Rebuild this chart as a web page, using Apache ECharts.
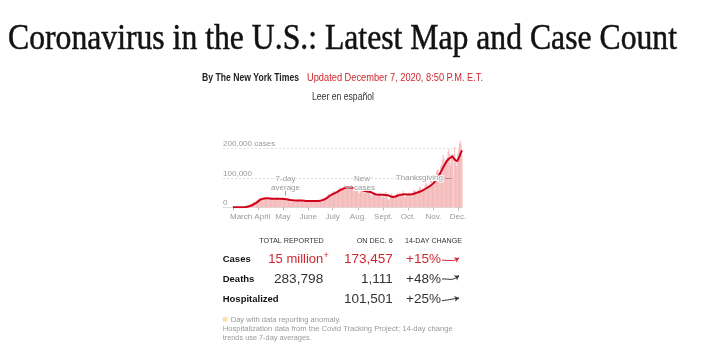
<!DOCTYPE html>
<html><head><meta charset="utf-8">
<script src="https://cdn.jsdelivr.net/npm/echarts@6/dist/echarts.min.js"></script>
<style>html,body{margin:0;padding:0;background:#fff}#c{width:709px;height:356px}</style>
</head><body><div id="c"></div>
<script>
// ---- DATA ----
const monthLabels = ['March','April','May','June','July','Aug.','Sept.','Oct.','Nov.','Dec.'];
const monthDays = [0,31,61,92,122,153,184,214,245,275]; // day index from Mar 1
const yTicks = [0,100,200];                // thousands of cases
const yTickLabels = ['0','100,000','200,000 cases'];

// daily new cases, thousands
const casesMar = [0.01,0.02,0.02,0.03,0.05,0.08,0.1,0.13,0.19,0.29,0.39,0.47,0.6,0.68,0.85,1.0,1.5,2.6,4.3,5.6,6.5,8.5,10.7,10.6,13.3,17.8,18.6,19.6,19.2,20.7,25.4];
const casesApr = [27.0,29.7,32.1,33.3,26.3,30.0,31.4,31.7,34.6,34.2,29.8,27.5,25.6,26.6,29.2,30.1,31.9,30.1,27.2,27.8,25.8,29.5,31.7,35.1,33.1,27.1,23.8,24.8,28.3,29.8];
const casesMay = [34.0,28.9,25.0,22.7,24.0,24.4,28.1,27.3,25.5,20.3,18.9,21.6,21.4,27.4,25.5,24.4,19.5,22.1,21.5,21.7,27.2,24.2,22.7,19.3,19.6,17.7,20.2,22.5,24.0,24.4,20.4];
const casesJun = [20.4,21.6,19.9,21.8,25.1,23.1,18.4,17.6,18.5,20.9,22.3,24.1,25.6,19.4,19.8,23.5,25.7,27.9,32.2,31.8,26.8,30.4,34.7,37.9,39.8,45.3,43.6,41.4,39.8,47.5];
const casesJul = [51.6,54.3,55.6,44.6,46.6,47.1,56.9,62.9,60.4,68.6,62.8,59.6,59.5,66.9,68.3,76.5,71.8,64.5,62.9,59.2,63.7,69.4,70.3,75.5,66.5,57.0,56.9,63.8,68.2,67.9,68.6];
const casesAug = [57.6,47.6,46.7,54.2,55.1,58.6,62.2,54.7,47.4,48.1,52.7,52.2,51.0,64.0,53.8,42.3,36.9,43.8,47.0,45.4,48.1,44.3,35.2,37.4,38.8,43.3,46.1,47.0,44.0,34.5,33.0];
const casesSep = [41.4,31.5,44.1,51.7,41.8,31.4,24.2,26.1,33.8,35.8,47.6,40.8,34.3,35.3,38.2,39.4,45.1,49.9,42.3,36.5,52.0,38.8,39.1,44.7,55.0,44.8,35.1,32.8,42.0,40.3];
const casesOct = [44.5,49.5,49.3,35.7,38.7,43.8,50.5,57.4,57.7,54.9,46.7,41.8,51.9,58.8,64.7,70.5,55.8,48.7,65.6,60.6,62.7,76.7,84.3,79.9,61.2,66.3,74.6,79.3,91.9,99.3,84.8];
const casesNov = [74.1,84.5,92.0,103.9,121.3,127.1,126.7,106.3,119.1,138.8,143.4,161.5,177.2,166.5,137.4,160.2,160.6,169.9,187.8,196.1,179.2,142.4,175.9,172.5,181.2,111.0,204.5,152.6,138.9,157.9];
const casesDec = [181.4,198.9,216.0,226.6,212.0,173.5];
const anomalyDays = [270]; // Thanksgiving

// 7-day average, thousands
const avgDays   = [0,7,14,21,28,35,42,49,56,63,70,77,84,91,98,105,112,119,126,133,140,147,154,161,168,175,182,189,196,203,210,217,224,231,238,245,252,259,263,266,268,270,272,274,276,278,280];
const avgValues = [0,0.07,0.5,4.5,14.5,27.5,31.0,28.7,29.0,28.5,25.0,22.7,22.7,21.0,21.4,21.7,26.7,40.0,50.0,60.5,67.0,66.0,63.0,54.7,51.8,43.5,42.5,40.6,35.0,41.0,44.0,43.5,48.7,55.7,67.0,81.0,109.0,145.0,162.0,168.0,173.0,166.0,160.0,157.0,167.0,180.0,193.0];

// table
const rowLabels = ['Cases','Deaths','Hospitalized'];
const totals    = ['15 million','283,798',''];
const onDec6    = ['173,457','1,111','101,501'];
const changes   = ['+15%','+48%','+25%'];
const sparkCases  = [167,167,166,166,165,165,164,163,163,164,168,176,184,192];
const sparkDeaths = [1.10,1.12,1.14,1.13,1.10,1.08,1.07,1.06,1.08,1.13,1.22,1.35,1.50,1.63];
const sparkHosp   = [80.9,82.4,83.9,85.3,86.6,88.0,89.7,91.3,93.0,94.6,96.3,97.9,99.6,101.5];

// ---- BUILD ----
const dailyCases = [].concat(casesMar,casesApr,casesMay,casesJun,casesJul,casesAug,casesSep,casesOct,casesNov,casesDec);
const RED = '#d0262d', SANS = '"Liberation Sans", Arial, sans-serif';
const ctx = document.createElement('canvas').getContext('2d');
function fitScale(text, weight, size, family, target){
  ctx.font = weight + ' ' + size + 'px ' + family;
  return target / ctx.measureText(text).width;
}
function T(x, y, text, o){
  o = o || {};
  const fam = o.family || SANS, size = o.size || 10, weight = o.weight || 'normal';
  const el = {type:'text', x:x, y:y, silent:true,
    style:{text:text, fontFamily:fam, fontSize:size, fontWeight:weight, fill:o.color||'#333',
           align:o.align||'left', verticalAlign:'middle'}};
  if (o.stroke) { el.style.stroke = o.color; el.style.lineWidth = o.stroke; }
  if (o.width) el.scaleX = fitScale(text, weight, size, fam, o.width);
  return el;
}
const graphics = [
  T(8, 39.5, 'Coronavirus in the U.S.: Latest Map and Case Count', {family:'"Liberation Serif", serif', size:35, color:'#121212', width:669, stroke:0.5}),
  T(202, 78, 'By The New York Times', {size:10, weight:'bold', color:'#222', width:97}),
  T(307, 78, 'Updated December 7, 2020, 8:50 P.M. E.T.', {size:10, color:RED, width:176}),
  T(312, 97.3, 'Leer en español', {size:10, color:'#333', width:62}),
  T(291.5, 241, 'TOTAL REPORTED', {size:7.2, align:'center', color:'#333'}),
  T(392.7, 241, 'ON DEC. 6', {size:7.2, align:'right', color:'#333'}),
  T(405, 241, '14-DAY CHANGE', {size:7.2, color:'#333', width:57}),
  {type:'rect', silent:true, shape:{x:222.7, y:317, width:4.6, height:4.6}, style:{fill:'#f6e2a6'}},
  T(230.7, 319.5, 'Day with data reporting anomaly.', {size:7.5, color:'#999', width:110}),
  T(222.7, 329.3, 'Hospitalization data from the Covid Tracking Project; 14-day change', {size:7.5, color:'#999', width:230}),
  T(222.7, 338.3, 'trends use 7-day averages.', {size:7.5, color:'#999', width:89})
];
const rowY = [259.7, 279.5, 299.6];
rowLabels.forEach((lab, i) => {
  const y = rowY[i];
  const col = i === 0 ? RED : '#333';
  graphics.push(T(222.7, y, lab, {size:9.5, weight:'bold', color:'#121212'}));
  if (totals[i]) graphics.push(T(323.3, y, totals[i], {size:13.5, color:col, align:'right', width:i === 0 ? 55 : 49.4}));
  graphics.push(T(392.7, y, onDec6[i], {size:13.5, color:col, align:'right'}));
  graphics.push(T(406, y, changes[i], {size:13.5, color:col}));
});
graphics.push(T(323.5, 255.5, '+', {size:9, color:RED}));

const sparks = [sparkCases, sparkDeaths, sparkHosp];
const sparkRange = [[130,220],[0.6,1.8],[60,120]];
const sparkTop = [255.5, 274.5, 295.5];
const labelShift = [10,5,0,0,0,0,0,0,0,0]; // label offsets (days) from their ticks
const labelDays = monthDays.map((d, i) => d + labelShift[i]);
const grids = [{left:223.1, right:246.2, top:136.5, bottom:148.7}];
const xAxes = [{
  type:'value', min:-12, max:281, gridIndex:0,
  splitLine:{show:false},
  axisLine:{show:true, lineStyle:{color:'#ddd', width:1}},
  axisTick:{show:true, customValues:monthDays, length:3, lineStyle:{color:'#bbb'}},
  axisLabel:{customValues:labelDays, margin:5, fontSize:8, color:'#999', fontFamily:SANS,
    showMinLabel:true, showMaxLabel:true, hideOverlap:false,
    formatter:v => monthLabels[labelDays.indexOf(v)]}
}];
const yAxes = [{
  type:'value', min:0, max:240, interval:100, gridIndex:0,
  axisLine:{show:false}, axisTick:{show:false},
  splitLine:{show:true, showMaxLine:false, lineStyle:{color:'#ddd', type:[2,2], width:1}},
  axisLabel:{inside:true, margin:0, fontSize:8, color:'#999', fontFamily:SANS, verticalAlign:'bottom', lineHeight:9,
    showMaxLabel:false,
    formatter:v => { const i = yTicks.indexOf(v); return i >= 0 ? yTickLabels[i] : ''; }}
}];
const series = [
  {type:'bar', xAxisIndex:0, yAxisIndex:0, barWidth:0.7, silent:true, animation:false,
   itemStyle:{color:'#f4b9b9'},
   data: dailyCases.map((v, i) => anomalyDays.indexOf(i) >= 0 ? {value:[i, v], itemStyle:{color:'#f3dc9c'}} : [i, v])},
  {type:'line', xAxisIndex:0, yAxisIndex:0, smooth:0.35, symbol:'none', silent:true, animation:false,
   lineStyle:{color:'#d0021b', width:2},
   data: avgDays.map((d, i) => [d, avgValues[i]]),
   markLine:{silent:true, symbol:['none','none'], animation:false, label:{show:false},
     lineStyle:{color:'#999', width:1, type:'solid'},
     data:[
       [{coord:[64, 56]}, {coord:[64, 40]}],
       [{coord:[137, 69.5]}, {coord:[146, 69.5]}],
       [{coord:[259.5, 100]}, {coord:[267.5, 100]}]
     ]},
   markPoint:{silent:true, symbol:'circle', symbolSize:0, animation:false,
     label:{show:true, position:'inside', fontSize:8, color:'#999', fontFamily:SANS, lineHeight:9,
            textBorderColor:'#fff', textBorderWidth:2},
     data:[
       {coord:[64.3, 83], value:'7-day\naverage', label:{formatter:'7-day\naverage', align:'center'}},
       {coord:[148, 83], value:'New\ncases', label:{formatter:'New\ncases', align:'left'}},
       {coord:[256.8, 98.5], value:'Thanksgiving', label:{formatter:'Thanksgiving', align:'right'}}
     ]}
  }
];
sparks.forEach((arr, k) => {
  grids.push({left:442, width:17, top:sparkTop[k], height:8});
  xAxes.push({type:'category', gridIndex:k+1, show:false, boundaryGap:false, data:arr.map((_, i) => String(i))});
  yAxes.push({type:'value', gridIndex:k+1, show:false, min:sparkRange[k][0], max:sparkRange[k][1]});
  const c = k === 0 ? RED : '#333';
  const n = arr.length;
  series.push({type:'line', xAxisIndex:k+1, yAxisIndex:k+1, silent:true, animation:false,
    symbol:'none', lineStyle:{color:c, width:1},
    data: arr,
    markLine:{silent:true, animation:false, symbol:['none','arrow'], symbolSize:4.5, label:{show:false},
      lineStyle:{color:c, width:1, type:'solid'},
      data:[[{coord:[String(n-2), arr[n-2]]}, {coord:[String(n-1), arr[n-1]]}]]}
  });
});

const chart = echarts.init(document.getElementById('c'), null, {renderer:'canvas'});
chart.setOption({animation:false, backgroundColor:'#fff', grid:grids, xAxis:xAxes, yAxis:yAxes, series:series, graphic:graphics});
</script></body></html>
